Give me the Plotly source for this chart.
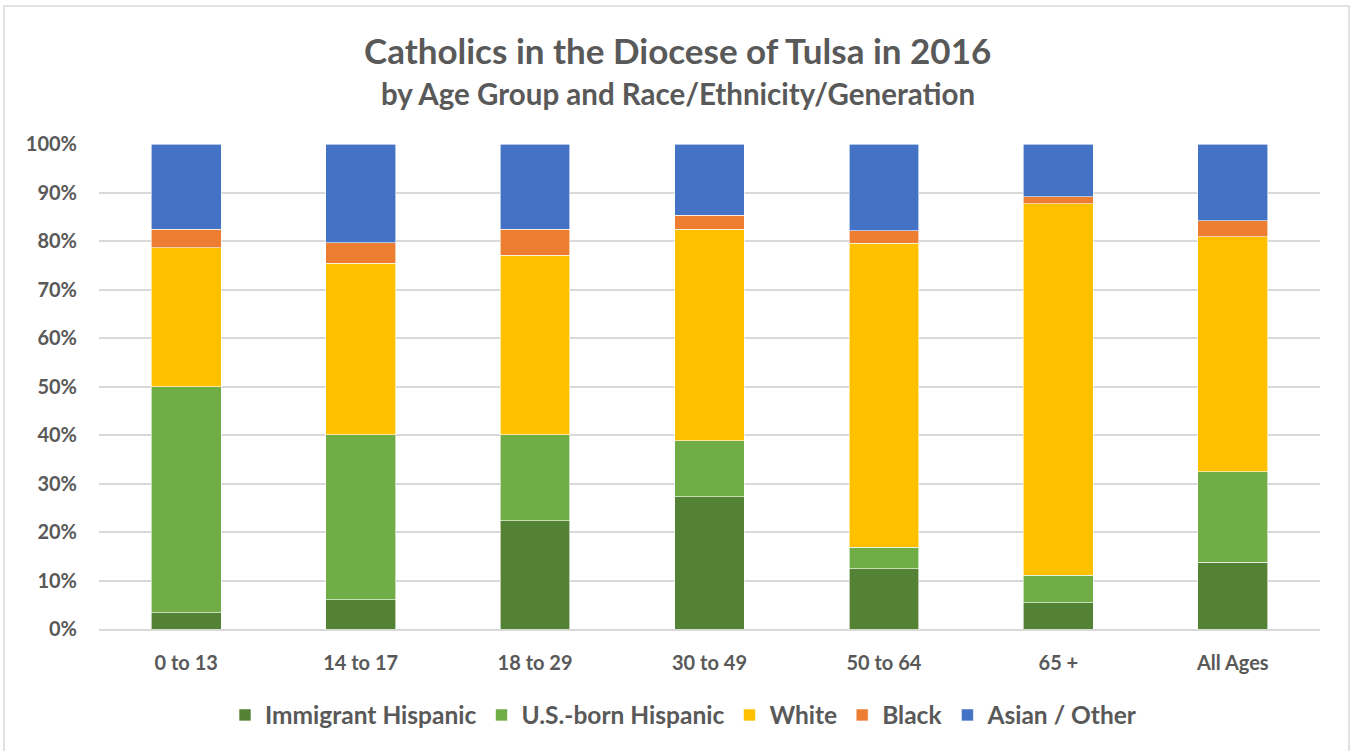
import plotly.graph_objects as go

categories = ["0 to 13", "14 to 17", "18 to 29", "30 to 49", "50 to 64", "65 +", "All Ages"]
immigrant_hispanic = [3.3, 6.0, 22.3, 27.3, 12.4, 5.4, 13.8]
us_born_hispanic = [46.6, 34.1, 17.8, 11.5, 4.5, 5.7, 18.6]
white = [28.7, 35.3, 37.0, 43.6, 62.6, 76.6, 48.5]
black = [3.8, 4.2, 5.3, 2.9, 2.6, 1.4, 3.3]
asian_other = [17.6, 20.4, 17.6, 14.7, 17.9, 10.9, 15.8]
tick_vals = [0, 10, 20, 30, 40, 50, 60, 70, 80, 90, 100]
tick_text = ["0%", "10%", "20%", "30%", "40%", "50%", "60%", "70%", "80%", "90%", "100%"]

series = [
    ("Immigrant Hispanic", immigrant_hispanic, "#548235"),
    ("U.S.-born Hispanic", us_born_hispanic, "#70AD47"),
    ("White", white, "#FFC000"),
    ("Black", black, "#ED7D31"),
    ("Asian / Other", asian_other, "#4472C4"),
]

FONT = "Lato"
TXT = "#595959"
W, H = 1351, 751
L, R, T, B = 99, 31, 144, 122
PW, PH = W - L - R, H - T - B

fig = go.Figure()
for name, vals, color in series:
    fig.add_trace(go.Bar(
        x=categories, y=vals, name=name,
        marker=dict(color=color, line=dict(color="white", width=0.6)),
        width=0.4,
    ))

fig.update_layout(
    barmode="stack",
    width=W, height=H,
    paper_bgcolor="white", plot_bgcolor="white",
    margin=dict(l=L, r=R, t=T, b=B),
    font=dict(family=FONT, color=TXT),
    legend=dict(
        orientation="h", x=(684 - L) / PW, xanchor="center",
        y=-(715 - (T + PH)) / PH, yanchor="middle",
        font=dict(size=24.5, family=FONT, color=TXT, weight="bold"),
        traceorder="normal", itemwidth=30,
    ),
)
fig.add_annotation(text="<b>Catholics in the Diocese of Tulsa in 2016</b>",
                   xref="paper", yref="paper", x=(677 - L) / PW, y=1 + (T - 50) / PH,
                   xanchor="center", yanchor="middle", showarrow=False,
                   font=dict(size=35, family=FONT, color=TXT))
fig.add_annotation(text="<b>by Age Group and Race/Ethnicity/Generation</b>",
                   xref="paper", yref="paper", x=(678 - L) / PW, y=1 + (T - 94) / PH,
                   xanchor="center", yanchor="middle", showarrow=False,
                   font=dict(size=29.5, family=FONT, color=TXT))
fig.update_yaxes(
    range=[0, 100], tickvals=tick_vals, ticktext=tick_text,
    showgrid=True, gridcolor="#D9D9D9", gridwidth=1.5,
    zeroline=False, showline=False,
    tickfont=dict(size=20, family=FONT, color=TXT, weight="bold"),
    ticks="", ticklabelstandoff=21,
)
fig.update_xaxes(
    showline=True, linecolor="#D9D9D9", linewidth=1.5,
    tickfont=dict(size=20, family=FONT, color=TXT, weight="bold"),
    ticks="", ticklabelstandoff=15,
)
fig.add_shape(type="rect", xref="paper", yref="paper",
              x0=(4 - L) / PW, x1=(1349 - L) / PW,
              y0=-(770 - (T + PH)) / PH, y1=1 + (T - 6) / PH,
              line=dict(color="#D9D9D9", width=1.5), fillcolor="rgba(0,0,0,0)", layer="below")
fig.update_traces(hoverinfo="skip")
fig.write_html("out.html", config={"displayModeBar": False},
               post_script="document.body.style.margin='0px';")
